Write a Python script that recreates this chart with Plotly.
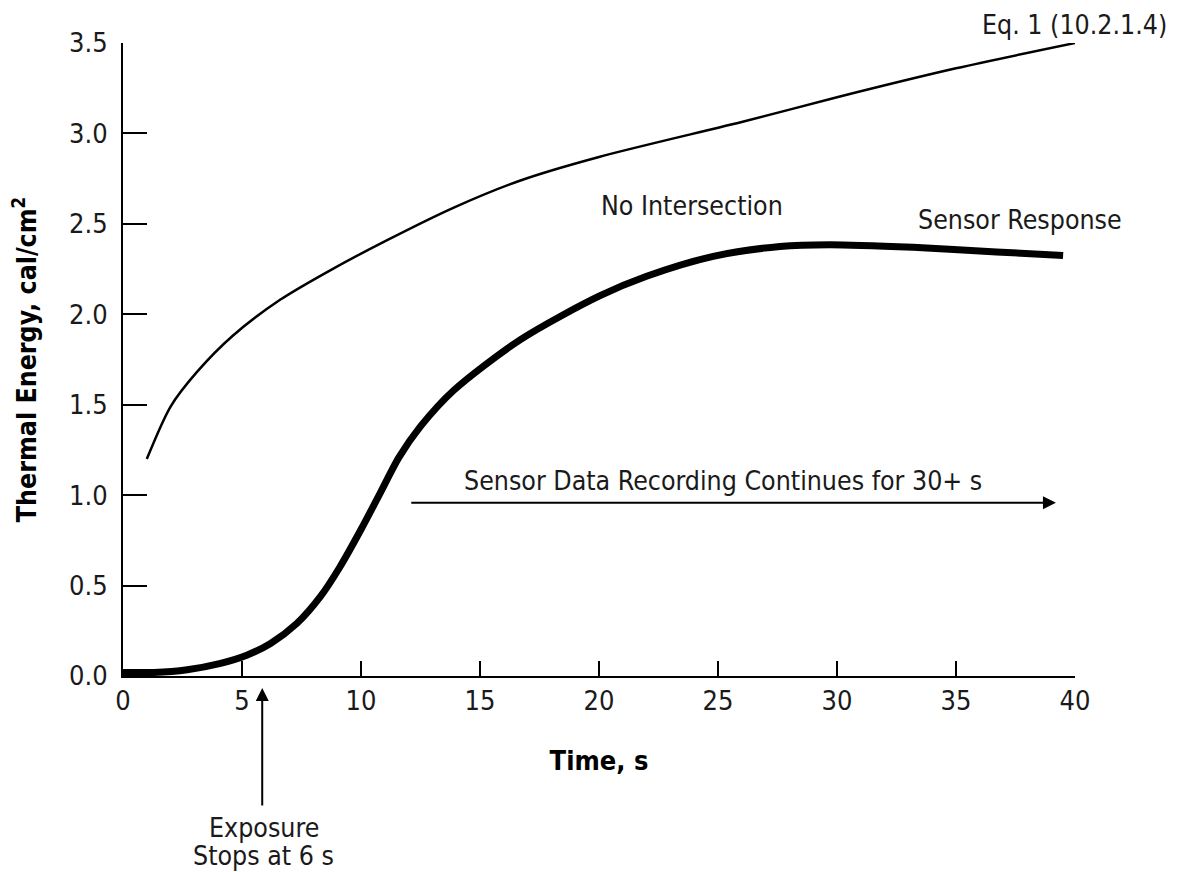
import plotly.graph_objects as go

# Eq. 1 (10.2.1.4) curve
eq_t = [1.0, 2.0, 3.1, 4.6, 6.6, 8.8, 11.1, 13.9, 16.7, 20.0, 26.2, 30.0, 35.0, 40.0]
eq_e = [1.20, 1.49, 1.68, 1.88, 2.08, 2.25, 2.41, 2.59, 2.74, 2.87, 3.07, 3.20, 3.36, 3.50]

# Sensor response curve
s_t = [0.0, 1.3, 2.7, 4.1, 5.2, 6.2, 7.3, 8.3, 9.1, 10.0, 10.8, 11.6, 12.5, 13.9,
       16.7, 20.0, 22.0, 24.8, 27.6, 29.7, 33.2, 36.7, 39.5]
s_e = [0.02, 0.02, 0.035, 0.07, 0.115, 0.18, 0.29, 0.44, 0.60, 0.81, 1.01, 1.21, 1.38, 1.58,
       1.86, 2.10, 2.21, 2.32, 2.375, 2.385, 2.37, 2.345, 2.325]

x_ticks = [0, 5, 10, 15, 20, 25, 30, 35, 40]
y_ticks = [0.0, 0.5, 1.0, 1.5, 2.0, 2.5, 3.0, 3.5]

FONT = "DejaVu Sans Condensed, DejaVu Sans, sans-serif"
TXT = "#1a1a1a"
FS = 26.5

fig = go.Figure()
fig.add_trace(go.Scatter(x=eq_t, y=eq_e, mode="lines",
                         line=dict(color="black", width=2.5, shape="spline", smoothing=0.8),
                         showlegend=False, cliponaxis=False))
fig.add_trace(go.Scatter(x=s_t, y=s_e, mode="lines",
                         line=dict(color="black", width=7, shape="spline", smoothing=0.8),
                         showlegend=False, cliponaxis=False))

annots = [
    dict(x=23.9, y=2.60, text="No Intersection"),
    dict(x=37.7, y=2.525, text="Sensor Response"),
    dict(x=25.2, y=1.08, text="Sensor Data Recording Continues for 30+ s"),
]
for a in annots:
    fig.add_annotation(xref="x", yref="y", showarrow=False, xanchor="center", yanchor="middle",
                       font=dict(family=FONT, size=FS, color=TXT), **a)

# label of the Eq. 1 curve (above the plot area)
fig.add_annotation(xref="paper", yref="paper", x=0.999, y=1.030, showarrow=False, borderpad=0,
                   text="Eq. 1 (10.2.1.4)", xanchor="center", yanchor="middle",
                   font=dict(family=FONT, size=FS, color=TXT))

# exposure text below the axis (two lines)
for txt, yp in [("Exposure", -0.240), ("Stops at 6 s", -0.283)]:
    fig.add_annotation(xref="x", yref="paper", x=5.92, y=yp, showarrow=False, borderpad=0,
                       text=txt, xanchor="center", yanchor="middle",
                       font=dict(family=FONT, size=FS, color=TXT))

# horizontal arrow
fig.add_annotation(xref="x", yref="y", axref="x", ayref="y",
                   x=39.2, y=0.958, ax=12.05, ay=0.958, text="",
                   showarrow=True, arrowhead=2, arrowsize=1.3, arrowwidth=2, arrowcolor="black")
# vertical arrow (exposure stops)
fig.add_annotation(xref="x", yref="paper", x=5.85, y=-0.019, ax=0, ay=119, text="",
                   showarrow=True, arrowhead=2, arrowsize=1.3, arrowwidth=2, arrowcolor="black")

fig.update_layout(
    width=1166, height=864,
    margin=dict(l=115, r=99, t=35, b=196),
    paper_bgcolor="white", plot_bgcolor="white",
    font=dict(family=FONT, size=FS, color=TXT),
    xaxis=dict(range=[0, 40], tickvals=x_ticks, ticktext=[str(v) for v in x_ticks],
               ticks="inside", ticklen=15, tickwidth=2, tickcolor="black",
               showline=True, linewidth=2, linecolor="black", showgrid=False, zeroline=False,
               tickfont=dict(family=FONT, size=27, color=TXT),
               title=dict(text="<b>Time, s</b>", standoff=36,
                          font=dict(family=FONT, size=27, color="black"))),
    yaxis=dict(range=[0, 3.5], tickvals=y_ticks, ticktext=[f"{v:.1f}" for v in y_ticks],
               ticks="inside", ticklen=24, tickwidth=2, tickcolor="black",
               showline=True, linewidth=2, linecolor="black", showgrid=False, zeroline=False,
               ticklabelstandoff=8,
               tickfont=dict(family=FONT, size=27, color=TXT),
               title=dict(text="<b>Thermal Energy, cal/cm<sup>2</sup></b>", standoff=30,
                          font=dict(family=FONT, size=26.5, color="black"))),
)

fig.write_html("out.html")
